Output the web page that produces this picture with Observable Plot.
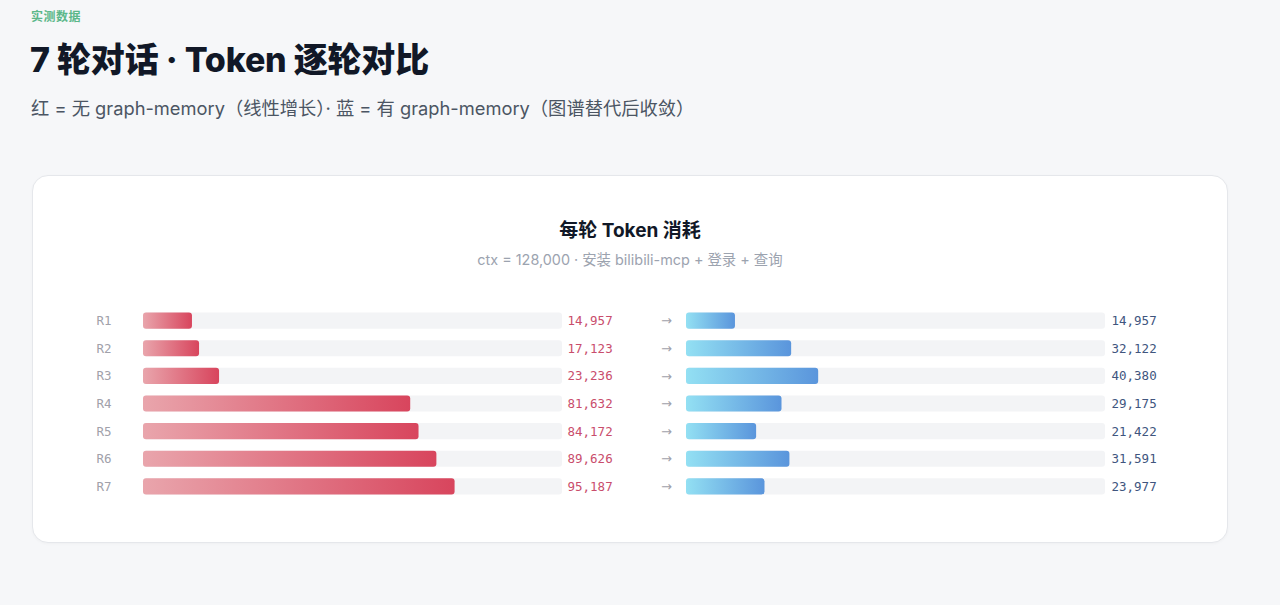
<!DOCTYPE html>
<html>
<head>
<meta charset="utf-8">
<script src="https://cdn.jsdelivr.net/npm/d3@7"></script>
<script src="https://cdn.jsdelivr.net/npm/@observablehq/plot@0.6"></script>
<style>
  html, body { margin: 0; padding: 0; }
  body { width: 1280px; height: 605px; background: #f6f7f9; position: relative; overflow: hidden;
         font-family: Inter, "Noto Sans CJK SC", "Noto Sans", sans-serif; }
  .eyebrow { position: absolute; left: 31px; top: 7px; font-size: 12px; font-weight: 700; color: #5cb88a; letter-spacing: 0.5px; }
  .title { position: absolute; left: 30px; top: 33px; font-size: 34px; font-weight: 800; color: #111827; letter-spacing: -0.2px; }
  .subtitle { position: absolute; left: 31px; top: 94px; font-size: 18.3px; color: #4b5563; }
  .card { position: absolute; left: 32px; top: 175px; width: 1194px; height: 366px; background: #fff;
          border: 1px solid #e5e7eb; border-radius: 16px; box-shadow: 0 1px 3px rgba(0,0,0,0.03); }
  .ctitle { position: absolute; left: 0; right: 0; top: 39px; text-align: center; font-size: 19px; font-weight: 700; color: #111827; }
  .csub { position: absolute; left: 0; right: 0; top: 72px; text-align: center; font-size: 14.4px; color: #9ca3af; }
  .plot { position: absolute; top: 301px; }
</style>
</head>
<body>
<div class="eyebrow">实测数据</div>
<div class="title">7 轮对话 · Token 逐轮对比</div>
<div class="subtitle">红 = 无 graph-memory（线性增长）· 蓝 = 有 graph-memory（图谱替代后收敛）</div>
<div class="card">
  <div class="ctitle">每轮 Token 消耗</div>
  <div class="csub">ctx = 128,000 · 安装 bilibili-mcp + 登录 + 查询</div>
</div>
<div id="left" class="plot" style="left:80px"></div>
<div id="right" class="plot" style="left:640px"></div>
<script>
const rounds = ["R1", "R2", "R3", "R4", "R5", "R6", "R7"];
const withoutMemory = [14957, 17123, 23236, 81632, 84172, 89626, 95187];
const withMemory = [14957, 32122, 40380, 29175, 21422, 31591, 23977];
const ctx = 128000;

const fmt = d3.format(",");
const mono = "'DejaVu Sans Mono', 'Liberation Mono', monospace";

function addGradient(svg, id, c0, c1) {
  const ns = "http://www.w3.org/2000/svg";
  const defs = document.createElementNS(ns, "defs");
  defs.innerHTML = `<linearGradient id="${id}" x1="0" y1="0" x2="1" y2="0">
    <stop offset="0" stop-color="${c0}"/><stop offset="1" stop-color="${c1}"/></linearGradient>`;
  svg.insertBefore(defs, svg.firstChild);
}

function panel(values, opts) {
  const data = rounds.map((r, i) => ({round: r, value: values[i]}));
  const marks = [
    Plot.barX(data, {y: "round", x1: 0, x2: ctx, fill: "#f3f4f6", rx: 3}),
    Plot.barX(data, {y: "round", x1: 0, x2: "value", fill: `url(#${opts.grad})`, rx: 3}),
    Plot.text(data, {y: "round", frameAnchor: "right", dx: opts.valueDx, textAnchor: "start",
      text: d => fmt(d.value), fill: opts.valueColor, fontFamily: mono, fontSize: 12.5})
  ];
  if (opts.labels) {
    marks.push(Plot.text(data, {y: "round", frameAnchor: "left", dx: -47, textAnchor: "start",
      text: "round", fill: "#a1a1aa", fontFamily: mono, fontSize: 12.5}));
  }
  if (opts.arrow) {
    marks.push(Plot.text(data, {y: "round", frameAnchor: "left", dx: -20, textAnchor: "middle",
      text: () => "→", fill: "#a1a1aa", fontFamily: "'DejaVu Sans', sans-serif", fontSize: 13}));
  }
  const svg = Plot.plot({
    width: opts.width,
    height: 205,
    marginLeft: opts.marginLeft,
    marginRight: opts.marginRight,
    marginTop: 0,
    marginBottom: 0,
    style: {background: "transparent", overflow: "visible"},
    x: {domain: [0, ctx], axis: null},
    y: {domain: rounds, padding: 0.42, round: false, axis: null},
    marks
  });
  addGradient(svg, opts.grad, opts.c0, opts.c1);
  return svg;
}

document.getElementById("left").append(panel(withoutMemory, {
  width: 560, marginLeft: 63, marginRight: 78, grad: "gradRed",
  c0: "#e9a5ac", c1: "#d8455d", valueColor: "#c94d6c", valueDx: 5, labels: true
}));
document.getElementById("right").append(panel(withMemory, {
  width: 580, marginLeft: 46, marginRight: 115, grad: "gradBlue",
  c0: "#93e0f3", c1: "#5a95dc", valueColor: "#40557e", valueDx: 6, arrow: true
}));
</script>
</body>
</html>
